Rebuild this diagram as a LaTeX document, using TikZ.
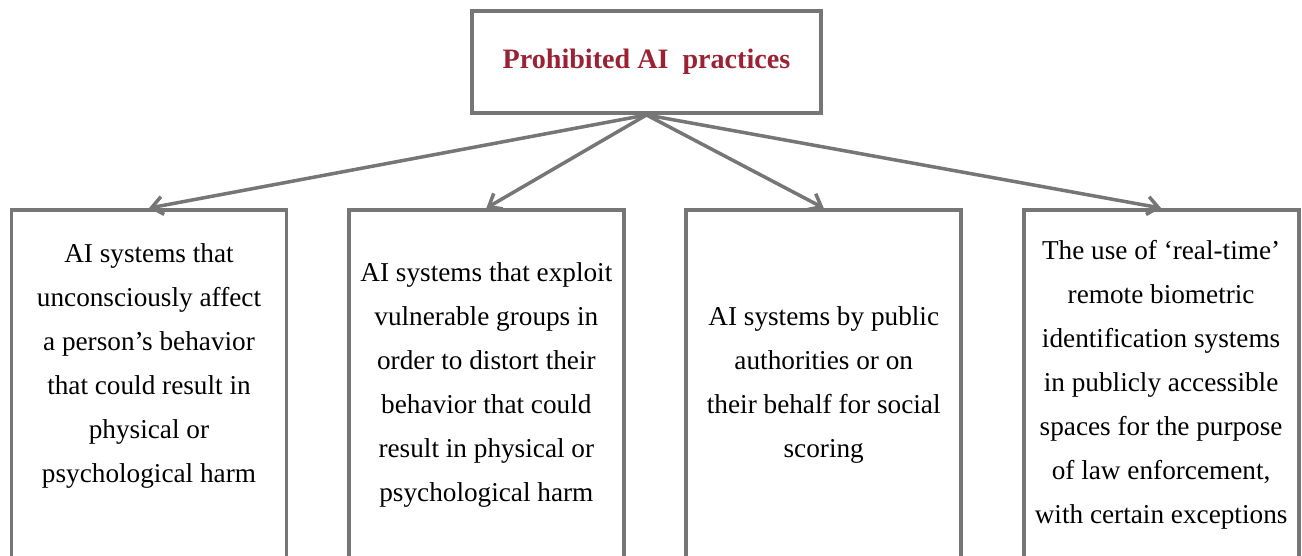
\documentclass[tikz,border=0pt]{standalone}
\usepackage{fontspec}
\setmainfont{Liberation Serif}
\usetikzlibrary{arrows.meta, positioning}

\definecolor{boxgray}{RGB}{118,118,118}
\definecolor{titlered}{RGB}{155,34,52}

\begin{document}
\begin{tikzpicture}[
    node distance=1.17cm,
    every node/.style={draw=boxgray, line width=2.2pt, rectangle, align=center, fill=white},
    practice/.style={minimum width=5.5cm, minimum height=7cm, font=\fontsize{15.5}{25}\selectfont},
    arrow/.style={-{Straight Barb[length=2.2mm, width=3.6mm]}, draw=boxgray, line width=2pt}
]
\useasboundingbox (0,0) rectangle (26.04,-11.12);
\clip (0,0) rectangle (26.04,-11.12);

\node[minimum width=6.98cm, minimum height=2.04cm, font=\fontsize{16}{20}\selectfont\bfseries, text=titlered] (title) at (12.93,-1.24) {Prohibited AI\ \ practices};

\node[practice] (harm) at (2.98,-7.7) {AI systems that\\ unconsciously affect\\ a person’s behavior\\ that could result in\\ physical or\\ psychological harm\\ \mbox{}};
\node[practice, right=of harm] (vuln) {AI systems that exploit\\ vulnerable groups in\\ order to distort their\\ behavior that could\\ result in physical or\\ psychological harm};
\node[practice, right=of vuln] (score) {AI systems by public\\ authorities or on\\ their behalf for social\\ scoring};
\node[practice, right=of score] (biom) {The use of ‘real-time’\\ remote biometric\\ identification systems\\ in publicly accessible\\ spaces for the purpose\\ of law enforcement,\\ with certain exceptions};

\draw[arrow] (title.south) -- (harm.north);
\draw[arrow] (title.south) -- (vuln.north);
\draw[arrow] (title.south) -- (score.north);
\draw[arrow] (title.south) -- (biom.north);

\end{tikzpicture}
\end{document}
